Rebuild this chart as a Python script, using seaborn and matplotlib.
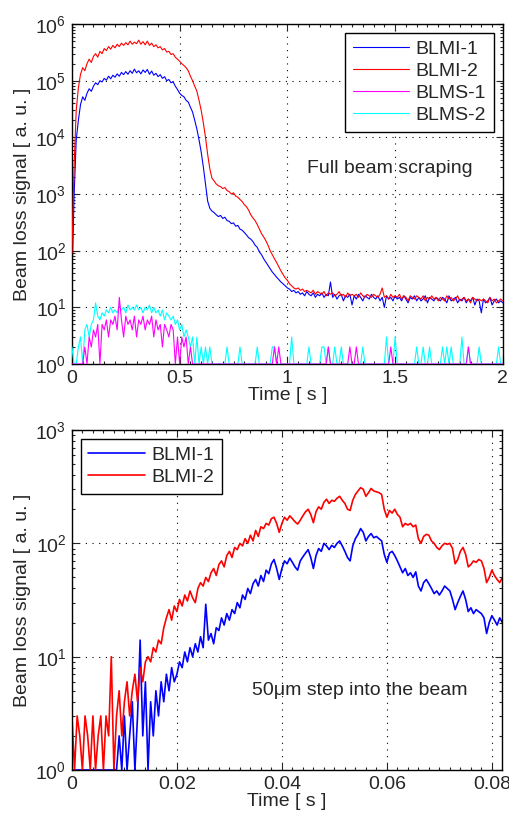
import numpy as np
import pandas as pd
import seaborn as sns
import matplotlib
matplotlib.use("Agg")
import matplotlib.pyplot as plt
from matplotlib.ticker import MultipleLocator, FuncFormatter, LogLocator

# ---------------------------------------------------------------- data
# full beam scraping, sampled every 10 ms from 0 to 2 s
t_full = np.round(np.arange(0, 201) * 0.01, 2)

blmi1_full = [
    28, 900, 9000, 20000, 38000, 52000, 45000, 60000, 72000, 65000,
    80000, 92000, 85000, 100000, 95000, 110000, 102000, 120000, 108000, 125000,
    115000, 132000, 120000, 140000, 128000, 145000, 130000, 150000, 135000, 160000,
    138000, 150000, 132000, 155000, 140000, 158000, 130000, 148000, 125000, 135000,
    118000, 128000, 110000, 118000, 100000, 105000, 92000, 95000, 80000, 70000,
    60000, 55000, 52000, 45000, 42000, 34000, 28000, 20000, 14000, 9000,
    5500, 3000, 1500, 750, 560, 500, 470, 430, 400, 420,
    370, 390, 340, 330, 300, 310, 270, 280, 240, 230,
    210, 190, 170, 160, 145, 125, 115, 95, 85, 72,
    63, 55, 48, 42, 38, 34, 31, 28, 26, 24,
    22, 21, 19, 20, 18, 19, 17, 18, 16, 19, 17,
    16, 18, 15, 17, 16, 18, 15, 17, 16, 28,
    15, 17, 14, 16, 17, 13, 16, 15, 17, 11,
    16, 14, 17, 15, 13, 16, 15, 14, 17, 15,
    14, 16, 13, 15, 10, 16, 14, 15, 13, 16,
    14, 15, 13, 16, 14, 12, 15, 14, 16, 13,
    15, 13, 14, 16, 12, 15, 14, 13, 15, 14,
    13, 15, 14, 12, 16, 13, 14, 15, 12, 14,
    13, 15, 12, 14, 13, 15, 11, 14, 13, 8,
    14, 12, 13, 15, 11, 13, 14, 12, 13, 12,
]

blmi2_full = [
    90, 3000, 30000, 75000, 130000, 170000, 150000, 200000, 240000, 210000,
    270000, 300000, 260000, 330000, 300000, 370000, 340000, 400000, 360000, 420000,
    380000, 440000, 400000, 460000, 420000, 470000, 430000, 500000, 440000, 480000,
    450000, 520000, 440000, 490000, 430000, 500000, 420000, 460000, 400000, 430000,
    380000, 400000, 350000, 370000, 320000, 330000, 290000, 300000, 260000, 240000,
    220000, 200000, 185000, 170000, 150000, 120000, 100000, 80000, 65000, 45000,
    30000, 18000, 10000, 5000, 2800, 1900, 1700, 1500, 1400, 1350,
    1250, 1300, 1150, 1100, 1000, 1050, 920, 880, 800, 740,
    650, 600, 520, 430, 380, 340, 290, 240, 200, 175,
    150, 125, 100, 85, 72, 62, 52, 44, 38, 33,
    30, 26, 24, 22, 21, 22, 20, 21, 19, 20, 19,
    18, 20, 17, 19, 18, 17, 19, 16, 18, 17,
    18, 16, 17, 19, 16, 17, 15, 18, 16, 17,
    16, 17, 15, 18, 16, 15, 17, 16, 15, 17,
    16, 15, 17, 22, 15, 16, 14, 17, 15, 16,
    15, 17, 14, 16, 15, 13, 16, 15, 14, 16,
    15, 14, 16, 13, 15, 14, 16, 14, 15, 13,
    15, 14, 13, 16, 14, 15, 13, 14, 16, 13,
    14, 15, 13, 14, 12, 15, 14, 13, 14, 13,
    14, 13, 12, 15, 13, 14, 12, 13, 14, 13,
]

blms1_full = [
    1, 1, 1, 1, 1, 1, 2, 1, 3, 2,
    4, 3, 5, 1, 5, 4, 6, 3, 6, 5,
    7, 4, 15, 6, 3, 7, 5, 6, 4, 7,
    3, 6, 5, 7, 4, 6, 5, 7, 3, 6,
    4, 5, 2, 5, 4, 3, 5, 4, 1, 3,
    1, 3, 2, 3, 1, 2, 1, 1, 1, 1,
    1, 1, 1, 1, 1, 1, 1, 1, 1, 1,
    1, 1, 1, 1, 1, 1, 1, 1, 1, 1,
    1, 1, 1, 1, 1, 1, 1, 1, 1, 1,
    1, 1, 1, 1, 2, 1, 2, 1, 1, 1,
    1, 1, 1, 1, 1, 1, 1, 1, 1, 1,
    1, 1, 1, 1, 1, 1, 1, 1, 1, 2,
    1, 1, 1, 1, 1, 1, 1, 1, 1, 2,
    1, 1, 2, 1, 1, 1, 1, 1, 1, 1,
    1, 1, 1, 1, 1, 1, 1, 1, 2, 1,
    1, 1, 1, 1, 1, 1, 1, 1, 1, 1,
    1, 1, 1, 1, 1, 1, 1, 1, 1, 1,
    1, 1, 1, 1, 1, 1, 1, 1, 1, 1,
    1, 1, 1, 1, 2, 1, 1, 1, 1, 1,
    1, 1, 1, 1, 1, 1, 1, 1, 1, 1,
    1,
]

blms2_full = [
    2, 1, 1, 2, 3, 1, 4, 5, 3, 5,
    6, 12, 7, 6, 8, 7, 9, 8, 10, 8,
    9, 8, 11, 9, 10, 8, 11, 9, 10, 9,
    11, 9, 10, 8, 10, 9, 11, 8, 10, 8,
    9, 7, 9, 6, 8, 7, 6, 7, 5, 6,
    4, 5, 3, 4, 3, 2, 3, 1, 3, 1,
    2, 1, 2, 1, 2, 1, 1, 1, 1, 1,
    1, 1, 2, 1, 1, 1, 1, 1, 2, 1,
    1, 1, 1, 1, 1, 1, 2, 1, 1, 1,
    1, 1, 1, 2, 2, 1, 1, 1, 1, 1,
    1, 1, 3, 1, 1, 1, 1, 1, 1, 1,
    2, 1, 1, 1, 1, 1, 2, 2, 1, 2,
    1, 1, 2, 1, 1, 2, 1, 1, 1, 1,
    1, 1, 1, 1, 1, 2, 1, 1, 1, 1,
    1, 1, 1, 1, 1, 1, 3, 1, 1, 1,
    3, 1, 1, 1, 1, 1, 1, 1, 1, 1,
    2, 1, 1, 2, 1, 1, 2, 1, 1, 1,
    1, 1, 2, 1, 2, 1, 2, 1, 1, 1,
    1, 3, 1, 1, 2, 1, 1, 1, 1, 2,
    1, 1, 1, 1, 1, 1, 1, 1, 2, 1,
    1,
]

# 50 um step, sampled every 0.5 ms from 0 to 0.082 s
t_step = np.round(np.arange(0, 165) * 0.0005, 4)

blmi1_step = [
    1, 1, 1, 1, 1, 1, 1, 1, 1, 1,
    1, 1, 1, 1, 1, 1, 1, 1, 2, 1,
    3, 1, 2, 4, 1, 3, 14, 2, 6, 1,
    4, 2, 5, 3, 6, 4, 7, 5, 8, 6,
    7, 9, 8, 11, 9, 12, 10, 13, 11, 15,
    12, 29, 14, 16, 13, 18, 17, 22, 19, 24,
    21, 26, 24, 30, 27, 35, 32, 40, 36, 44,
    48, 42, 52, 46, 58, 54, 66, 72, 60, 48,
    60, 70, 66, 74, 68, 62, 58, 70, 76, 82,
    88, 75, 60, 78, 90, 85, 100, 95, 88, 96,
    92, 100, 105, 95, 85, 75, 70, 95, 110, 120,
    135, 125, 105, 115, 122, 112, 115, 110, 105, 80,
    68, 82, 85, 78, 70, 62, 55, 60, 52, 55,
    50, 56, 42, 38, 45, 48, 44, 40, 36, 38,
    35, 38, 42, 40, 38, 32, 26, 30, 34, 38,
    32, 25, 27, 24, 26, 25, 24, 22, 16, 20,
    23, 21, 19, 22, 20,
]

blmi2_step = [
    3, 1, 3, 2, 1, 3, 2, 1, 3, 1,
    2, 3, 1, 3, 2, 10, 1, 3, 5, 2,
    4, 6, 3, 5, 7, 4, 8, 6, 9, 10,
    9, 12, 11, 14, 13, 18, 22, 26, 21, 28,
    25, 32, 28, 35, 31, 38, 33, 30, 40, 45,
    42, 50, 46, 55, 60, 52, 65, 70, 62, 78,
    85, 75, 92, 88, 100, 95, 110, 100, 118, 105,
    130, 115, 140, 135, 150, 145, 165, 170, 150, 125,
    150, 170, 160, 175, 165, 155, 148, 160, 175, 190,
    200, 180, 152, 190, 210, 200, 230, 245, 225, 240,
    235, 250, 260, 240, 225, 200, 195, 240, 270, 290,
    310, 300, 260, 280, 305, 290, 285, 280, 270, 200,
    170, 195, 185, 200, 180, 170, 140, 150, 145, 150,
    140, 145, 110, 100, 115, 120, 118, 105, 100, 92,
    88, 95, 100, 98, 100, 90, 66, 72, 85, 92,
    80, 62, 65, 70, 68, 72, 70, 60, 45, 50,
    58, 52, 48, 45, 50,
]

labels_full = ["BLMI-1", "BLMI-2", "BLMS-1", "BLMS-2"]
labels_step = ["BLMI-1", "BLMI-2"]
colors = {"BLMI-1": "#0000ff", "BLMI-2": "#ff0000", "BLMS-1": "#ff00ff", "BLMS-2": "#00ffff"}

# ---------------------------------------------------------------- style
sns.set_style("ticks")
plt.rcParams["font.family"] = ["Liberation Sans", "DejaVu Sans"]
plt.rcParams["mathtext.fontset"] = "custom"
plt.rcParams["mathtext.rm"] = "Liberation Sans"
plt.rcParams["font.size"] = 14

fig = plt.figure(figsize=(5.1, 8.18), dpi=100)
ax1 = fig.add_axes([0.141, 0.555, 0.845, 0.4156])
ax2 = fig.add_axes([0.141, 0.0587, 0.843, 0.4156])

full = pd.DataFrame({"t": t_full, "BLMI-1": blmi1_full, "BLMI-2": blmi2_full,
                     "BLMS-1": blms1_full, "BLMS-2": blms2_full})
step = pd.DataFrame({"t": t_step, "BLMI-1": blmi1_step, "BLMI-2": blmi2_step})

handles = {}
for name, z in [("BLMI-1", 2), ("BLMI-2", 3), ("BLMS-2", 4), ("BLMS-1", 5)]:
    sns.lineplot(data=full, x="t", y=name, ax=ax1, color=colors[name], lw=0.8,
                 estimator=None, errorbar=None, zorder=z)
    handles[name] = ax1.lines[-1]
for name in labels_step:
    sns.lineplot(data=step, x="t", y=name, ax=ax2, color=colors[name], lw=1.2,
                 estimator=None, errorbar=None)

fmt = FuncFormatter(lambda v, p: "%g" % v)
for ax in (ax1, ax2):
    ax.set_yscale("log")
    ax.yaxis.set_major_locator(LogLocator(base=10, numticks=12))
    ax.yaxis.set_minor_locator(LogLocator(base=10, subs=np.arange(2, 10), numticks=12))
    ax.yaxis.set_minor_formatter(plt.NullFormatter())
    ax.xaxis.set_major_formatter(fmt)
    ax.tick_params(which="both", direction="in", top=True, right=True, width=0.8,
                   labelsize=14, pad=4)
    ax.tick_params(which="major", length=5)
    ax.tick_params(which="minor", length=2.5)
    ax.grid(True, which="major", color="k", lw=0.8, linestyle=(0, (1, 5)))
    for s in ax.spines.values():
        s.set_linewidth(1.0)
        s.set_color("k")
    ax.set_xlabel("Time [ s ]", fontsize=14, labelpad=0)
    ax.set_ylabel("Beam loss signal [ a. u. ]", fontsize=14, labelpad=3)

ax1.set_xlim(0, 2)
ax1.set_ylim(1, 1e6)
ax1.xaxis.set_major_locator(MultipleLocator(0.5))
ax1.xaxis.set_minor_locator(MultipleLocator(0.05))

ax2.set_xlim(0, 0.0819)
ax2.set_ylim(1, 1e3)
ax2.xaxis.set_major_locator(MultipleLocator(0.02))
ax2.xaxis.set_minor_locator(MultipleLocator(0.002))

leg_kw = dict(fontsize=14, frameon=True, fancybox=False, edgecolor="k", framealpha=1,
              handlelength=2.9, handletextpad=0.35, labelspacing=0.22, borderpad=0.4,
              borderaxespad=0.45)
ax1.legend([handles[n] for n in labels_full], labels_full, loc="upper right", **leg_kw)
ax2.legend(ax2.lines[:2], labels_step, loc="upper left", **leg_kw)
for leg in (ax1.get_legend(), ax2.get_legend()):
    leg.get_frame().set_linewidth(1.0)

ax1.text(0.738, 0.576, "Full beam scraping", transform=ax1.transAxes, ha="center",
         va="center", fontsize=14)
ax2.text(0.67, 0.235, "50\u03bcm step into the beam", transform=ax2.transAxes,
         ha="center", va="center", fontsize=14)

fig.savefig("out.png", dpi=100)
